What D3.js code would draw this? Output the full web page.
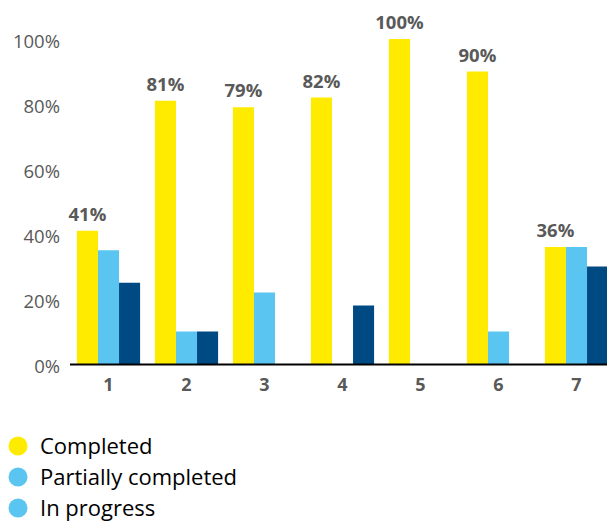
<!DOCTYPE html>
<html>
<head>
<meta charset="utf-8">
<script src="https://cdn.jsdelivr.net/npm/d3@7"></script>
<style>
  html, body { margin: 0; padding: 0; background: #fff; }
  svg { display: block; }
</style>
</head>
<body>
<svg id="chart" width="607" height="524"></svg>
<script>
const categories = ["1", "2", "3", "4", "5", "6", "7"];
const seriesNames = ["Completed", "Partially completed", "In progress"];
const completed = [41, 81, 79, 82, 100, 90, 36];
const partiallyCompleted = [35, 10, 22, 0, 0, 10, 36];
const inProgress = [25, 10, 0, 18, 0, 0, 30];
const yTicks = [0, 20, 40, 60, 80, 100];
const barColors = ["#FFEB00", "#5BC5F2", "#004A84"];
const legendColors = ["#FFEB00", "#5BC5F2", "#5BC5F2"];

const series = [completed, partiallyCompleted, inProgress];
const svg = d3.select("#chart");

const x0 = d3.scaleBand().domain(categories).range([69.5, 615.5]).paddingInner(0.19).paddingOuter(0.095);
const x1 = d3.scaleBand().domain(d3.range(series.length)).range([0, x0.bandwidth()]);
const y = d3.scaleLinear().domain([0, 100]).range([364, 39]);

// bars
const g = svg.append("g");
categories.forEach((c, i) => {
  series.forEach((s, j) => {
    if (s[i] > 0) {
      g.append("rect")
        .attr("x", x0(c) + x1(j))
        .attr("y", y(s[i]))
        .attr("width", x1.bandwidth())
        .attr("height", y(0) - y(s[i]))
        .attr("fill", barColors[j]);
    }
  });
  // data label for Completed
  g.append("text")
    .attr("x", x0(c) + x1(0) + x1.bandwidth() / 2)
    .attr("y", y(completed[i]) - 10)
    .attr("text-anchor", "middle")
    .attr("font-family", "Open Sans")
    .attr("font-weight", "bold")
    .attr("font-size", 18.5)
    .attr("fill", "#595959")
    .text(completed[i] + "%");
});

// y axis (labels only)
const yAxis = d3.axisLeft(y).tickValues(yTicks).tickFormat(d => d + "%").tickSize(0).tickPadding(0);
const ya = svg.append("g").attr("transform", "translate(60,3)").call(yAxis);
ya.select(".domain").remove();
ya.selectAll("text")
  .attr("font-family", "Open Sans")
  .attr("font-size", 18.5)
  .attr("fill", "#595959");

// x axis
const xAxis = d3.axisBottom(x0).tickSize(0).tickPadding(14);
const xa = svg.append("g").attr("transform", "translate(0,364)").call(xAxis);
xa.select(".domain").attr("d", "M70,0.5H607").attr("stroke", "#000").attr("stroke-width", 2);
xa.selectAll("text")
  .attr("font-family", "Open Sans")
  .attr("font-weight", "bold")
  .attr("font-size", 18)
  .attr("fill", "#595959");

// legend
const legend = svg.append("g");
seriesNames.forEach((n, i) => {
  const ly = 446 + i * 31;
  legend.append("circle").attr("cx", 18).attr("cy", ly).attr("r", 9.5).attr("fill", legendColors[i]);
  legend.append("text").attr("x", 40).attr("y", ly).attr("dy", "0.35em")
    .attr("font-family", "Open Sans").attr("font-size", 22).attr("fill", "#000")
    .text(n);
});
</script>
</body>
</html>
